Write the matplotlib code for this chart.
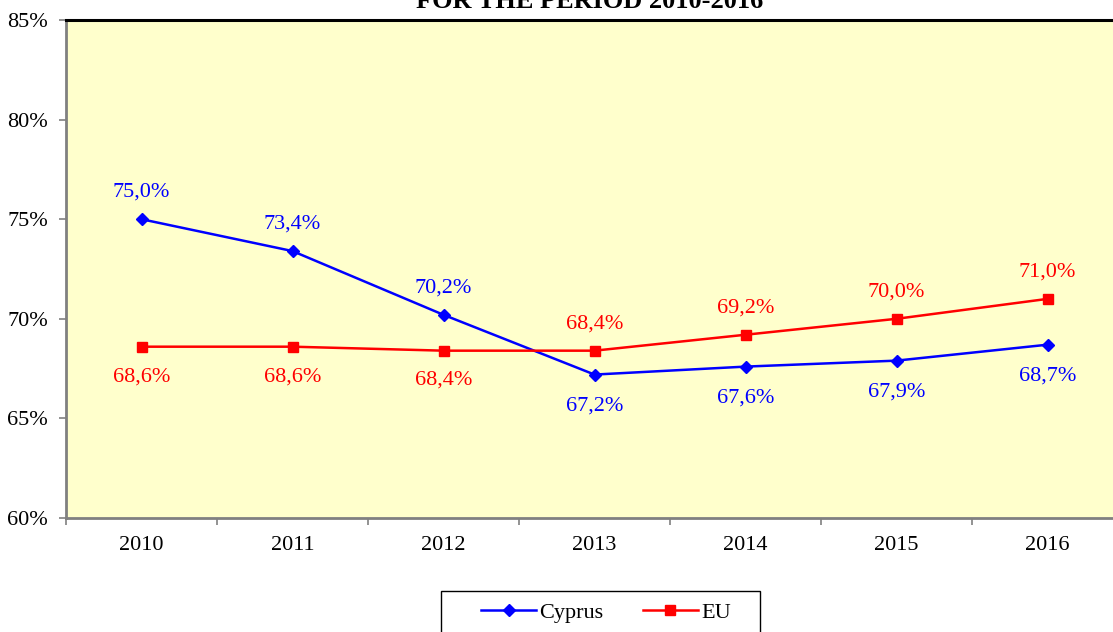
import matplotlib.pyplot as plt
from matplotlib.patches import Rectangle
import numpy as np

plt.rcParams['font.family'] = ['Liberation Serif', 'DejaVu Serif']

years = ['2010', '2011', '2012', '2013', '2014', '2015', '2016']
cyprus = [75.0, 73.4, 70.2, 67.2, 67.6, 67.9, 68.7]
eu = [68.6, 68.6, 68.4, 68.4, 69.2, 70.0, 71.0]
# label above (+1) or below (-1) the point
cyprus_side = [1, 1, 1, -1, -1, -1, -1]
eu_side = [-1, -1, -1, 1, 1, 1, 1]

W, H = 1113, 632
fig = plt.figure(figsize=(W / 100, H / 100), dpi=100)
ax = fig.add_axes([66 / W, 1 - 518 / H, 1057 / W, 498 / H])
ax.set_facecolor('#FFFFCC')

x = np.arange(len(years))
ax.plot(x, cyprus, color='#0000FF', lw=1.8, marker='D', ms=6, label='Cyprus', clip_on=False)
ax.plot(x, eu, color='#FF0000', lw=1.8, marker='s', ms=7, label='EU', clip_on=False)

def fmt(v):
    return f"{v:.1f}%".replace('.', ',')

for xi, v, s in zip(x, cyprus, cyprus_side):
    ax.annotate(fmt(v), (xi, v), xytext=(0, 19.5 if s > 0 else -22.5),
                textcoords='offset points', ha='center', va='center',
                color='#0000FF', fontsize=16)
for xi, v, s in zip(x, eu, eu_side):
    ax.annotate(fmt(v), (xi, v), xytext=(0, 19.5 if s > 0 else -21.5),
                textcoords='offset points', ha='center', va='center',
                color='#FF0000', fontsize=16)

ax.set_xlim(-0.5, 6.5)
ax.set_ylim(60, 85)
ax.set_yticks(np.arange(60, 86, 5))
ax.set_yticklabels([f"{t}%" for t in range(60, 86, 5)], fontsize=16)
ax.set_xticks(x)
ax.set_xticklabels(years, fontsize=16)
ax.set_xticks(np.arange(-0.5, 7, 1), minor=True)
ax.tick_params(axis='x', which='major', length=0, pad=13)
ax.tick_params(axis='x', which='minor', length=5, color='#808080', width=1.2)
ax.tick_params(axis='y', length=5, color='#808080', width=1.2, pad=8)

ax.spines['top'].set_color('black')
ax.spines['top'].set_linewidth(2.2)
ax.spines['left'].set_color('#808080')
ax.spines['left'].set_linewidth(2)
ax.spines['bottom'].set_color('#808080')
ax.spines['bottom'].set_linewidth(2)
ax.spines['right'].set_visible(False)

fig.text(590 / W, 1 - 8.5 / H, 'FOR THE PERIOD 2010-2016', ha='center',
         va='baseline', fontsize=19, fontweight='bold')

# legend box (bottom edge runs off the figure as in the original)
fig.patches.append(Rectangle((441 / W, 1 - 660 / H), 319 / W, 69 / H,
                             transform=fig.transFigure, fill=False,
                             edgecolor='black', lw=1))
leg = fig.legend(loc='center', bbox_to_anchor=(606 / W, 1 - 613 / H),
                 ncol=2, fontsize=16, frameon=False,
                 handlelength=2.45, borderpad=0, columnspacing=1.8,
                 handletextpad=0.15)

fig.savefig('out.png', dpi=100)
